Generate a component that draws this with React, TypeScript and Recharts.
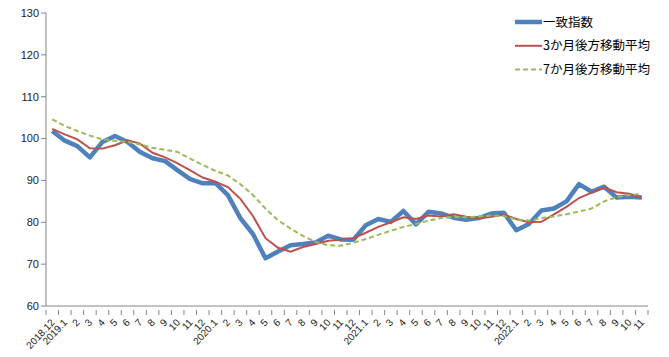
import React from 'react';
import { LineChart, Line, XAxis, YAxis } from 'recharts';

const months = [
  '2018.12', '2019.1', '2', '3', '4', '5', '6', '7', '8', '9', '10', '11', '12',
  '2020.1', '2', '3', '4', '5', '6', '7', '8', '9', '10', '11', '12',
  '2021.1', '2', '3', '4', '5', '6', '7', '8', '9', '10', '11', '12',
  '2022.1', '2', '3', '4', '5', '6', '7', '8', '9', '10', '11',
];

const coincident = [
  101.8, 99.5, 98.2, 95.5, 99.2, 100.6, 99.2, 96.8, 95.3, 94.6, 92.4, 90.3, 89.3,
  89.4, 86.5, 81.0, 77.2, 71.4, 73.0, 74.5, 74.8, 75.2, 76.8, 75.9, 75.8,
  79.3, 80.8, 80.1, 82.7, 79.5, 82.5, 82.1, 81.1, 80.6, 81.0, 82.1, 82.3,
  78.1, 79.6, 82.8, 83.3, 85.0, 89.1, 87.3, 88.5, 85.9, 86.1, 85.9,
];

const avg3 = [
  102.3, 101.0, 99.8, 97.7, 97.6, 98.4, 99.6, 98.8, 96.6, 95.5, 94.1, 92.4, 90.7,
  89.7, 88.4, 85.6, 81.5, 76.2, 73.9, 73.0, 74.1, 74.8, 75.6, 75.8, 76.2,
  77.5, 78.9, 80.0, 81.2, 80.8, 81.6, 81.4, 81.9, 81.3, 80.9, 81.3, 81.8,
  80.8, 80.0, 80.1, 81.9, 83.7, 85.8, 87.1, 88.3, 87.2, 86.8, 85.8,
];

const avg7 = [
  104.6, 103.0, 101.8, 100.7, 99.8, 99.5, 99.2, 98.6, 97.8, 97.3, 96.8, 95.2, 93.7,
  92.3, 91.2, 89.1, 86.5, 83.3, 80.5, 78.5, 76.7, 75.3, 74.5, 74.4, 75.1,
  76.0, 77.0, 78.0, 78.9, 79.6, 80.4, 81.0, 81.3, 81.2, 81.4, 81.6, 81.5,
  80.7, 80.4, 81.0, 81.4, 81.9, 82.6, 83.3, 85.0, 86.0, 86.5, 86.8,
];

const yTicks = [60, 70, 80, 90, 100, 110, 120, 130];

const data = months.map((m, i) => ({
  m,
  key: i,
  coincident: coincident[i],
  avg3: avg3[i],
  avg7: avg7[i],
}));

const W = 669;
const H = 357;
const LEFT = 46;
const RIGHT = 21;
const AXIS = '#868686';
const FONT = '"Liberation Sans", Arial, sans-serif';
const band = (W - LEFT - RIGHT) / months.length;

const legendItems = [
  { name: '一致指数', color: '#4F81BD', width: 4.5, dash: undefined },
  { name: '3か月後方移動平均', color: '#C0504D', width: 2, dash: undefined },
  { name: '7か月後方移動平均', color: '#9BBB59', width: 2, dash: '5 3' },
];

function XTick(props: any) {
  const { x, y, payload, index } = props;
  const last = index === months.length - 1;
  return (
    <g>
      <line x1={x - band / 2} x2={x - band / 2} y1={y - 4} y2={y + 1} stroke={AXIS} />
      {last && <line x1={x + band / 2} x2={x + band / 2} y1={y - 4} y2={y + 1} stroke={AXIS} />}
      <text
        x={x + 3}
        y={y + 9}
        textAnchor="end"
        fontSize={10}
        fontFamily={FONT}
        fill="#222"
        transform={`rotate(-47, ${x + 3}, ${y + 9})`}
      >
        {months[payload.value]}
      </text>
    </g>
  );
}

function LegendBox() {
  return (
    <svg
      width={160}
      height={80}
      style={{ position: 'absolute', left: 515, top: 13, overflow: 'visible' }}
    >
      {legendItems.map((it, i) => (
        <g key={it.name}>
          <line
            x1={0}
            x2={27}
            y1={9 + i * 23.8}
            y2={9 + i * 23.8}
            stroke={it.color}
            strokeWidth={it.width}
            strokeDasharray={it.dash}
          />
          <text
            x={28}
            y={9 + i * 23.8 + 4.5}
            fontSize={12.5}
            fontFamily='"Noto Sans CJK JP", sans-serif'
            fill="#000"
          >
            {it.name}
          </text>
        </g>
      ))}
    </svg>
  );
}

export default function App() {
  return (
    <div style={{ position: 'absolute', left: 0, top: 0, width: W, height: H, background: '#fff' }}>
      <LineChart width={W} height={H} data={data} margin={{ top: 13, right: RIGHT, bottom: 0, left: 0 }}>
        <XAxis
          dataKey="key"
          height={51}
          interval={0}
          stroke={AXIS}
          tickLine={false}
          padding={{ left: band / 2, right: band / 2 }}
          tick={<XTick />}
        />
        <YAxis
          domain={[60, 130]}
          ticks={yTicks}
          width={LEFT}
          stroke={AXIS}
          tickSize={5}
          tick={{ fontSize: 11, fill: '#222', fontFamily: FONT }}
          interval={0}
        />
        <Line
          dataKey="coincident"
          stroke="#4F81BD"
          strokeWidth={4.5}
          dot={false}
          isAnimationActive={false}
          strokeLinejoin="round"
        />
        <Line dataKey="avg3" stroke="#C0504D" strokeWidth={2} dot={false} isAnimationActive={false} />
        <Line
          dataKey="avg7"
          stroke="#9BBB59"
          strokeWidth={2}
          strokeDasharray="5 3"
          dot={false}
          isAnimationActive={false}
        />
      </LineChart>
      <LegendBox />
    </div>
  );
}
